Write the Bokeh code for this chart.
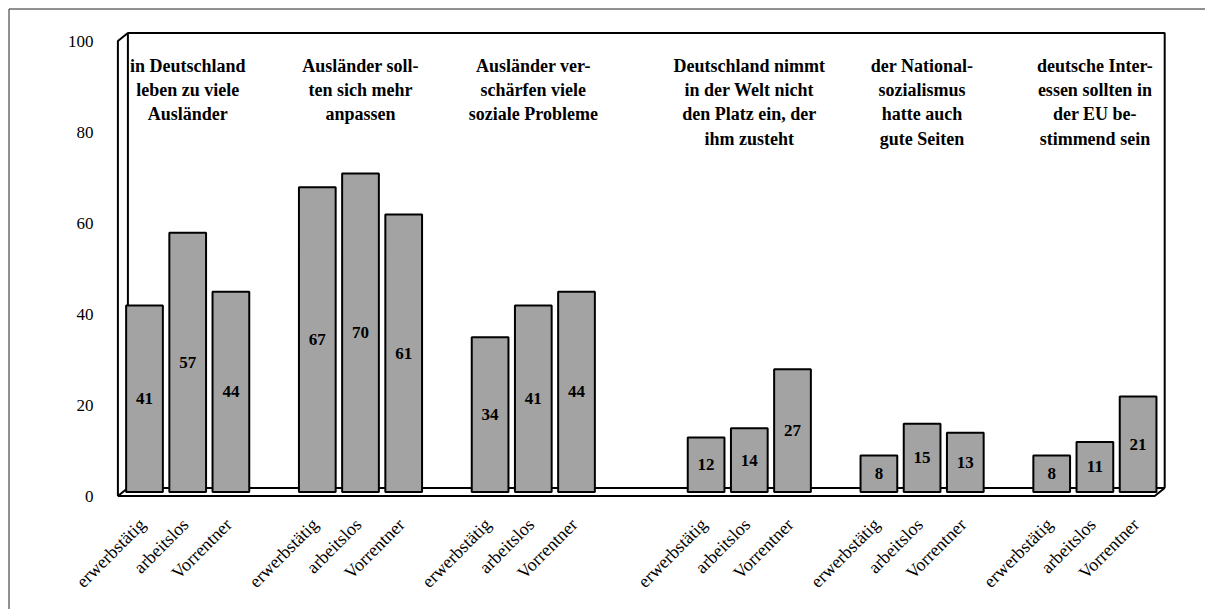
import math
from bokeh.plotting import figure
from bokeh.models import ColumnDataSource, Range1d
from bokeh.core.properties import value
from bokeh.embed import file_html
from bokeh.resources import INLINE

# ---------------- data ----------------
group_titles = [
    "in Deutschland\nleben zu viele\nAusländer",
    "Ausländer soll-\nten sich mehr\nanpassen",
    "Ausländer ver-\nschärfen viele\nsoziale Probleme",
    "Deutschland nimmt\nin der Welt nicht\nden Platz ein, der\nihm zusteht",
    "der National-\nsozialismus\nhatte auch\ngute Seiten",
    "deutsche Inter-\nessen sollten in\nder EU be-\nstimmend sein",
]
categories = ["erwerbstätig", "arbeitslos", "Vorrentner"]
erwerbstaetig = [41, 67, 34, 12, 8, 8]
arbeitslos = [57, 70, 41, 14, 15, 11]
vorrentner = [44, 61, 44, 27, 13, 21]
y_ticks = [0, 20, 40, 60, 80, 100]

# ---------------- layout ----------------
group_start = [0, 4, 8, 13, 17, 21]   # slot of first bar in each group
W, H = 1205, 609
ORG = 0               # page offset of the canvas
PX_SLOT = 43.2        # pixels per slot
PX_UNIT = 4.55        # pixels per percent
X0_PAGE = 144.0       # page x of slot 0 centre
Y0_PAGE = 491.5       # page y of value 0 (bar plane)
FONT = "Liberation Serif"

def px2x(px):
    return (px - X0_PAGE) / PX_SLOT

def py2y(py):
    return (Y0_PAGE - py) / PX_UNIT

p = figure(width=W, height=H, output_backend="svg", toolbar_location=None,
           x_range=Range1d(px2x(ORG), px2x(ORG + W)),
           y_range=Range1d(py2y(ORG + H), py2y(ORG)),
           min_border=0)
p.axis.visible = False
p.grid.visible = False
p.outline_line_color = None
p.background_fill_color = "white"
p.border_fill_color = "white"

# outer chart-area border (left and top visible)
bx = px2x(8.5)
by = py2y(8.5)
p.line([bx, bx, px2x(ORG + W + 20)], [py2y(ORG + H + 20), by, by], line_color="#222222", line_width=1)

# 3D walls
dxs = 5 / PX_SLOT
dyv = 4 / PX_UNIT
L, R, T = -0.5, group_start[-1] + 2.5, 100
lw = 2
# back wall
p.line([L + dxs, L + dxs, R + dxs, R + dxs], [dyv, T + dyv, T + dyv, dyv], line_color="black", line_width=lw)
# left side wall
p.line([L + dxs, L - dxs, L - dxs], [T + dyv, T - dyv, -dyv], line_color="black", line_width=lw)
# floor
p.line([L + dxs, L - dxs, R - dxs, R + dxs, L + dxs], [dyv, -dyv, -dyv, dyv, dyv], line_color="black", line_width=lw)

# bars
xs, tops, cats = [], [], []
for gi, gs in enumerate(group_start):
    for ci, series in enumerate([erwerbstaetig, arbeitslos, vorrentner]):
        xs.append(gs + ci)
        tops.append(series[gi])
        cats.append(categories[ci])
src = ColumnDataSource(dict(x=xs, top=tops, mid=[t / 2 for t in tops],
                            lab=[str(t) for t in tops], cat=cats))
p.vbar(x="x", top="top", bottom=0, width=0.85, source=src,
       fill_color="#A3A3A3", line_color="black", line_width=2)

# value labels
p.text(x="x", y="mid", text="lab", source=src, text_font=value(FONT),
       text_font_size="17px", text_font_style="bold", text_align="center",
       text_baseline="middle", text_color="black")

# category labels (rotated)
p.text(x=[x - 0.05 for x in xs], y=[py2y(521)] * len(xs), text=cats,
       text_font=value(FONT), text_font_size="18px", text_align="right",
       text_baseline="middle", angle=math.pi / 4, text_color="black")

# group titles
tx = [gs + 1 for gs in group_start]
p.text(x=tx, y=[py2y(55)] * len(tx), text=group_titles, text_font=value(FONT),
       text_font_size="18px", text_font_style="bold", text_align="center",
       text_baseline="top", text_line_height=1.22, text_color="black")

# y tick labels (front plane)
p.text(x=[px2x(93)] * len(y_ticks), y=[v - dyv for v in y_ticks],
       text=[str(v) for v in y_ticks], text_font=value(FONT), text_font_size="17px",
       text_align="right", text_baseline="middle", text_color="black")

open("out.html", "w").write(file_html(p, INLINE))
